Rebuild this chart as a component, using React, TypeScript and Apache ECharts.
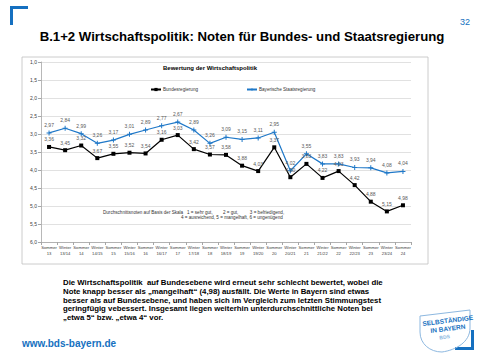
import React, { useEffect, useRef } from 'react';
import * as echarts from 'echarts';

const categories = [
  'Sommer\n13', 'Winter\n13/14', 'Sommer\n14', 'Winter\n14/15', 'Sommer\n15', 'Winter\n15/16',
  'Sommer\n16', 'Winter\n16/17', 'Sommer\n17', 'Winter\n17/18', 'Sommer\n18', 'Winter\n18/19',
  'Sommer\n19', 'Winter\n19/20', 'Sommer\n20', 'Winter\n20/21', 'Sommer\n21', 'Winter\n21/22',
  'Sommer\n22', 'Winter\n22/23', 'Sommer\n23', 'Winter\n23/24', 'Sommer\n24',
];
const bundesregierung = [3.36, 3.45, 3.32, 3.67, 3.55, 3.52, 3.54, 3.16, 3.03, 3.42, 3.57, 3.58, 3.88, 4.03, 3.37, 4.2, 3.83, 4.22, 4.03, 4.42, 4.88, 5.15, 4.98];
const bayerischeStaatsregierung = [2.97, 2.84, 2.99, 3.26, 3.17, 3.01, 2.89, 2.77, 2.67, 2.89, 3.26, 3.09, 3.15, 3.11, 2.95, 4.02, 3.55, 3.83, 3.83, 3.93, 3.94, 4.08, 4.04];
const yMin = 1;
const yMax = 6;
const yInterval = 0.5;

const FONT = '"Liberation Sans", Arial, sans-serif';
const BLUE = '#1F78C8';
const BRAND = '#1570C0';

const bodyText = [
  'Die Wirtschaftspolitik  auf Bundesebene wird erneut sehr schlecht bewertet, wobei die',
  'Note knapp besser als \u201Emangelhaft\u201C (4,98) ausfällt. Die Werte in Bayern sind etwas',
  'besser als auf Bundesebene, und haben sich im Vergleich zum letzten Stimmungstest',
  'geringfügig vebessert. Insgesamt liegen weiterhin unterdurchschnittliche Noten bei',
  '\u201Eetwa 5\u201C bzw. \u201Eetwa 4\u201C vor.',
].join('\n');

const fmt2 = (v: number) => v.toFixed(2).replace('.', ',');

export default function App() {
  const ref = useRef<HTMLDivElement>(null);
  useEffect(() => {
    if (!ref.current) return;
    echarts.graphic.registerShape(
      'shieldLogo',
      echarts.graphic.extendPath('M0,6 L50,0 L50,18 C50,32 36,40 22,42 C10,42 0,34 0,22 Z', {}) as any
    );
    const chart = echarts.init(ref.current, null, { renderer: 'svg' });
    chart.setOption({
      animation: false,
      backgroundColor: '#ffffff',
      textStyle: { fontFamily: FONT },
      grid: { left: 41, right: 69, top: 62, bottom: 118 },
      legend: {
        left: 145,
        top: 82,
        itemWidth: 10,
        itemHeight: 4,
        itemGap: 48,
        textStyle: { fontSize: 4.6, color: '#333', fontFamily: FONT, padding: [0, 0, 0, -3] },
        data: ['Bundesregierung', 'Bayerische Staatsregierung'],
      },
      xAxis: {
        type: 'category',
        data: categories,
        position: 'bottom',
        axisLine: { onZero: false, lineStyle: { color: '#A6A6A6', width: 0.8 } },
        axisTick: { show: true, alignWithLabel: false, length: 3, lineStyle: { color: '#A6A6A6' } },
        axisLabel: { fontSize: 4.2, color: '#404040', lineHeight: 5.5, margin: 3, interval: 0 },
      },
      yAxis: {
        type: 'value',
        inverse: true,
        min: yMin,
        max: yMax,
        interval: yInterval,
        axisLine: { show: true, lineStyle: { color: '#A6A6A6', width: 0.8 } },
        axisTick: { show: true, length: 3, lineStyle: { color: '#A6A6A6' } },
        axisLabel: { fontSize: 5, color: '#404040', margin: 4, formatter: (v: number) => v.toFixed(1).replace('.', ',') },
        splitLine: { lineStyle: { color: '#D9D9D9', width: 0.8 } },
      },
      series: [
        {
          name: 'Bundesregierung',
          type: 'line',
          data: bundesregierung,
          symbol: 'rect',
          symbolSize: 4,
          itemStyle: { color: '#000000' },
          lineStyle: { color: '#000000', width: 1.2 },
          label: { show: true, position: 'top', distance: 3, fontSize: 5, color: '#595959', formatter: (p: any) => fmt2(p.value) },
        },
        {
          name: 'Bayerische Staatsregierung',
          type: 'line',
          data: bayerischeStaatsregierung,
          symbol: 'path://M2,0H3V2H5V3H3V5H2V3H0V2H2Z',
          symbolSize: 5,
          itemStyle: { color: BLUE },
          lineStyle: { color: BLUE, width: 1.2 },
          label: { show: true, position: 'top', distance: 3, fontSize: 5, color: '#595959', formatter: (p: any) => fmt2(p.value) },
        },
      ],
      graphic: [
        { type: 'rect', shape: { x: 10, y: 6, width: 3, height: 19 }, style: { fill: BRAND } },
        { type: 'rect', shape: { x: 10, y: 6, width: 18, height: 3 }, style: { fill: BRAND } },
        { type: 'rect', shape: { x: 471, y: 330, width: 3, height: 20 }, style: { fill: BRAND } },
        { type: 'rect', shape: { x: 455, y: 347, width: 19, height: 3 }, style: { fill: BRAND } },
        { type: 'text', x: 465, y: 22, style: { text: '32', fontSize: 9, fill: BRAND, fontFamily: FONT, textAlign: 'center', textVerticalAlign: 'middle' } },
        { type: 'text', x: 242, y: 36, style: { text: 'B.1+2 Wirtschaftspolitik: Noten für Bundes- und Staatsregierung', fontSize: 13.2, fontWeight: 'bold', fill: '#000', fontFamily: FONT, textAlign: 'center', textVerticalAlign: 'middle' } },
        { type: 'rect', shape: { x: 22, y: 57, width: 406, height: 207 }, style: { fill: 'none', stroke: '#BFBFBF', lineWidth: 0.8 }, z: -1 },
        { type: 'text', x: 210, y: 68, style: { text: 'Bewertung der Wirtschaftspolitik', fontSize: 6, fontWeight: 'bold', fill: '#000', fontFamily: FONT, textAlign: 'center', textVerticalAlign: 'middle' } },
        { type: 'text', x: 103, y: 212, style: { text: 'Durchschnittsnoten auf Basis der Skala   1 = sehr gut,        2 = gut,         3 = befriedigend,', fontSize: 4.6, fill: '#333', fontFamily: FONT, textVerticalAlign: 'middle' } },
        { type: 'text', x: 181, y: 217, style: { text: '4 = ausreichend, 5 = mangelhaft, 6 = ungenügend', fontSize: 4.6, fill: '#333', fontFamily: FONT, textVerticalAlign: 'middle' } },
        { type: 'text', x: 63, y: 278, style: { text: bodyText, fontSize: 7.8, lineHeight: 8.8, fontWeight: 'bold', fill: '#000', fontFamily: FONT } },
        { type: 'text', x: 22, y: 343, style: { text: 'www.bds-bayern.de', fontSize: 10, fontWeight: 'bold', fill: BRAND, fontFamily: FONT, textVerticalAlign: 'middle' } },
        {
          type: 'group', x: 420, y: 310,
          children: [
            { type: 'shieldLogo', x: 0, y: 0, style: { fill: 'none', stroke: '#8DB8E0', lineWidth: 1 } },
            { type: 'text', x: 2, y: 10, rotation: 0.12, style: { text: 'SELBSTÄNDIGE', fontSize: 6.5, fontWeight: 'bold', fill: BRAND, fontFamily: FONT } },
            { type: 'text', x: 10, y: 17, rotation: 0.12, style: { text: 'IN BAYERN', fontSize: 6.5, fontWeight: 'bold', fill: BRAND, fontFamily: FONT } },
            { type: 'text', x: 19, y: 25, rotation: 0.12, style: { text: 'BDS', fontSize: 5, fontWeight: 'bold', fill: '#8DB8E0', fontFamily: FONT } },
          ],
        },
      ],
    });
    return () => chart.dispose();
  }, []);
  return <div ref={ref} style={{ position: 'fixed', left: 0, top: 0, width: 480, height: 360 }} />;
}
